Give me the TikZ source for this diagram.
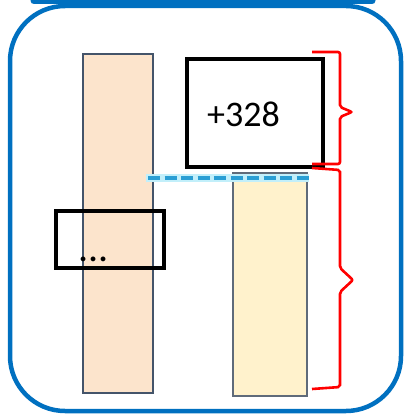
\documentclass[tikz,border=0pt]{standalone}
\usepackage{fontspec}
\setmainfont{Carlito}
\definecolor{outerblue}{HTML}{0070C0}
\definecolor{peach}{HTML}{FCE4CC}
\definecolor{cream}{HTML}{FFF2CC}
\definecolor{slate}{HTML}{44546A}
\definecolor{slate2}{HTML}{5F6B7A}
\definecolor{dashblue}{HTML}{2A9ED4}
\definecolor{glow}{HTML}{C2EFFA}
\tikzset{
  frame/.style={draw=outerblue, line width=4.5pt, rounded corners=55pt},
  colbar/.style={draw=slate, line width=1.6pt},
  blackbox/.style={draw=black, line width=3.8pt, fill=white},
  brace/.style={draw=red, line width=2.6pt, rounded corners=2pt},
}
\begin{document}
\begin{tikzpicture}[x=1pt,y=-1pt]
\useasboundingbox (0,0) rectangle (405,414);
% top bar (partially visible shape above)
\draw[outerblue, line width=7pt, line cap=round] (34,1) -- (372,1);
% outer frame
\draw[frame] (10,6) rectangle (401,411);
% columns
\node[colbar, fill=peach, minimum width=70pt, minimum height=339pt, inner sep=0pt, anchor=north west] (left) at (82,53) {};
\node[colbar, draw=slate2, fill=cream, minimum width=74pt, minimum height=223pt, inner sep=0pt, anchor=north west] (right) at (232,172) {};
% +328 box
\node[blackbox, minimum width=136pt, minimum height=108pt, inner sep=0pt, anchor=north west] (box) at (185,57) {};
\node[font=\fontsize{36}{40}\selectfont, anchor=west, inner sep=0pt] (num) at (207,114) {+328};
% small box
\node[blackbox, fill=none, minimum width=108pt, minimum height=57pt, inner sep=0pt, anchor=north west] (small) at (54,209) {};
\node[font=\fontsize{40}{40}\selectfont, anchor=base west, inner sep=0pt] (dots) at (78,261) {...};
% dashed line
\coordinate (d1) at (146,178);
\coordinate (d2) at (309,178);
\draw[glow, line width=8pt] (d1) -- (d2);
\draw[dashblue, line width=4pt, dash pattern=on 12pt off 4.5pt, dash phase=-2pt] (d1) -- (d2);
% braces
\draw[brace] (312,52) -- (340,52) -- (340,107) -- (352,112) -- (340,117) -- (340,164) -- (312,164);
\draw[brace] (312,168) -- (340,170) -- (340,268) -- (353,280) -- (340,292) -- (340,387) -- (312,389);
\end{tikzpicture}
\end{document}
